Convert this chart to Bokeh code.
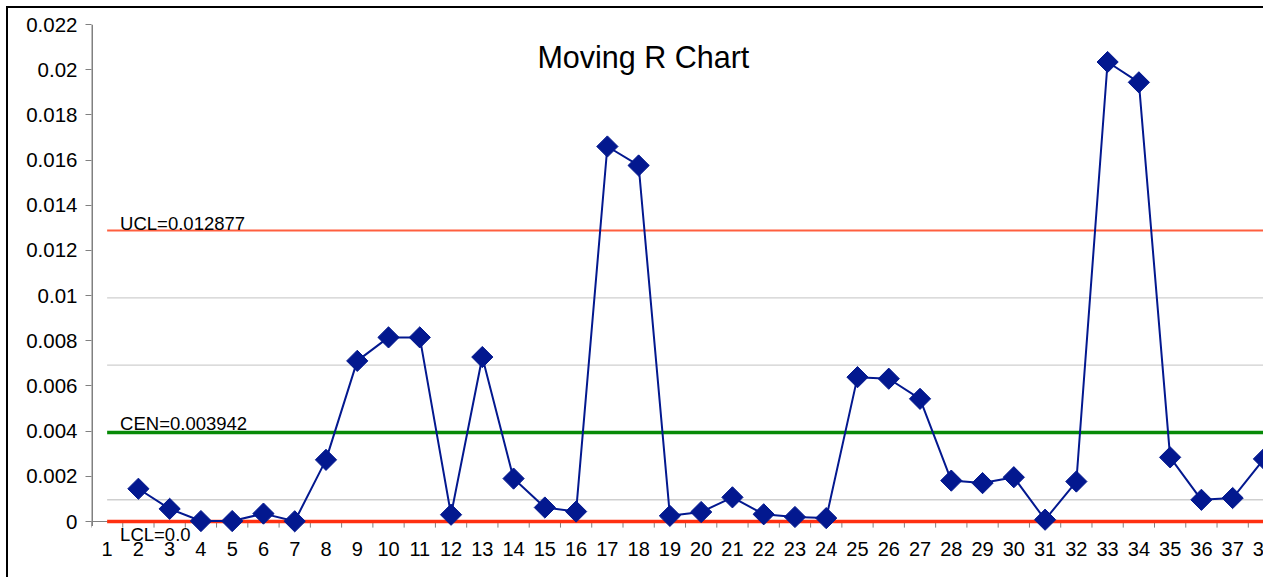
from bokeh.plotting import figure
from bokeh.models import FixedTicker, CustomJSTickFormatter, Label, Range1d
from bokeh.core.properties import value
from bokeh.embed import file_html
from bokeh.resources import INLINE

# ---- data ----
categories = list(range(1, 39))
category_labels = [str(c) for c in categories]
mr_x = list(range(2, 39))
mr_values = [0.00145, 0.00056, 0.00002, 0.00002, 0.00035, 0.00001, 0.00273, 0.00711,
             0.00815, 0.00815, 0.00030, 0.00728, 0.00190, 0.00062, 0.00044, 0.01660,
             0.01576, 0.00025, 0.00042, 0.00107, 0.00032, 0.00020, 0.00015, 0.00639,
             0.00632, 0.00543, 0.00181, 0.00170, 0.00196, 0.00008, 0.00177, 0.02034,
             0.01944, 0.00284, 0.00096, 0.00104, 0.00277]
UCL = 0.012877
CEN = 0.003942
LCL = 0.0
zone_lines = [0.000964, 0.006920, 0.009899]
y_ticks = [0, 0.002, 0.004, 0.006, 0.008, 0.01, 0.012, 0.014, 0.016, 0.018, 0.02, 0.022]
title_text = "Moving R Chart"
ucl_text = "UCL=0.012877"
cen_text = "CEN=0.003942"
lcl_text = "LCL=0.0"

FONT = "Liberation Sans"
TICK_LEN = 0.00027      # length of category-boundary tick marks (data units)
LABEL_PAD = 0.00090     # gap between the category axis and its labels (data units)
Y_MIN, Y_MAX = -0.002567, 0.022

p = figure(width=1257, height=571, output_backend="svg", toolbar_location=None,
           x_range=Range1d(0.5, 38.05), y_range=Range1d(Y_MIN, Y_MAX),
           min_border_left=83, min_border_right=0, min_border_top=16, min_border_bottom=0)
p.outline_line_color = None
p.xgrid.visible = False
p.ygrid.visible = False
p.xaxis.visible = False
p.background_fill_color = "white"
p.border_fill_color = "white"
p.styles = {"border-left": "2px solid black", "border-top": "2px solid black",
            "margin-left": "6px", "margin-top": "6px"}

# zone lines (light gray)
for z in zone_lines:
    p.line([categories[0], categories[-1]], [z, z], line_color="#cfcfcf", line_width=1.3)

# value axis line
p.segment(x0=[0.5], y0=[-0.0002], x1=[0.5], y1=[Y_MAX], line_color="#808080", line_width=3)

# category axis line, boundary ticks and labels
bounds = [c - 0.5 for c in categories] + [categories[-1] + 0.5]
p.line([bounds[0], bounds[-1]], [0, 0], line_color="#808080", line_width=1)
p.segment(x0=bounds, y0=[0] * len(bounds), x1=bounds, y1=[-TICK_LEN] * len(bounds),
          line_color="#808080", line_width=1)
p.text(x=categories, y=[-LABEL_PAD] * len(categories), text=category_labels,
       text_font=value(FONT), text_font_size="20px", text_color="black",
       text_align="center", text_baseline="top")

# control limits
p.line([categories[0], categories[-1]], [UCL, UCL], line_color="#ff5f3f", line_width=2)
p.line([categories[0], categories[-1]], [CEN, CEN], line_color="#078a07", line_width=3.5)
p.line([categories[0], categories[-1]], [LCL, LCL], line_color="#ff3010", line_width=3.5)

# data series
p.line(mr_x, mr_values, line_color="#03188f", line_width=2)
p.scatter(mr_x, mr_values, marker="square", size=15, angle=0.785398,
          fill_color="#03188f", line_color="#03188f")

# value axis ticks and labels
p.yaxis.ticker = FixedTicker(ticks=y_ticks)
p.yaxis.formatter = CustomJSTickFormatter(code="""
let s = tick.toFixed(3).replace(/0+$/, '');
if (s.endsWith('.')) s = s.slice(0, -1);
return s;
""")
p.yaxis.minor_tick_line_color = None
p.yaxis.major_tick_out = 6
p.yaxis.major_tick_in = 0
p.yaxis.major_tick_line_color = "#808080"
p.yaxis.axis_line_color = None
p.yaxis.major_label_standoff = 8
p.yaxis.major_label_text_font = FONT
p.yaxis.major_label_text_font_size = "20.5px"
p.yaxis.major_label_text_color = "black"

# texts
p.add_layout(Label(x=18.15, y=0.02054, text=title_text, text_font=FONT, text_font_size="30.5px",
                   text_align="center", text_baseline="alphabetic", text_color="black"))
p.add_layout(Label(x=1.415, y=UCL + 0.00032, text=ucl_text, text_font=FONT, text_font_size="18.5px",
                   text_align="left", text_baseline="alphabetic", text_color="black"))
p.add_layout(Label(x=1.415, y=CEN + 0.00038, text=cen_text, text_font=FONT, text_font_size="18.5px",
                   text_align="left", text_baseline="alphabetic", text_color="black"))
p.add_layout(Label(x=1.415, y=LCL - 0.00013, text=lcl_text, text_font=FONT, text_font_size="18.5px",
                   text_align="left", text_baseline="top", text_color="black"))

open("out.html", "w").write(file_html(p, INLINE))
